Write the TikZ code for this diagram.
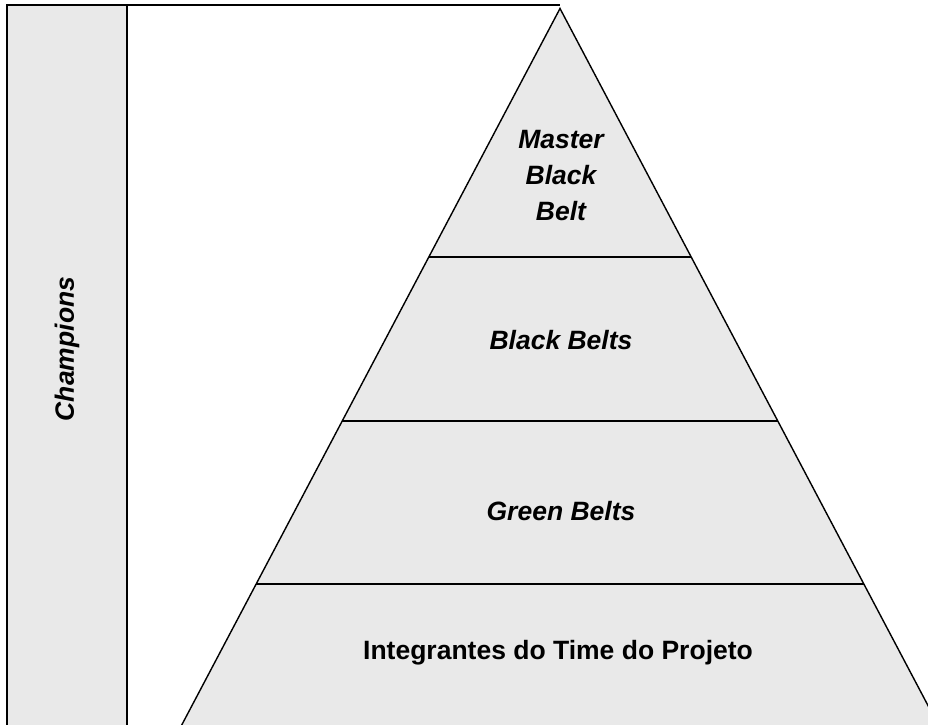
\documentclass[tikz,border=0pt]{standalone}
\usepackage{fontspec}
\setmainfont{Liberation Sans}
\usepackage{tikz}
\usetikzlibrary{calc}
\tikzset{>=latex}
\definecolor{levelfill}{gray}{0.914}
\tikzset{
  outline/.style={draw=black, line width=1.4pt, line join=miter},
  beltlabel/.style={font=\fontsize{26.5}{36}\selectfont\bfseries\itshape, align=center},
  teamlabel/.style={font=\fontsize{26.5}{36}\selectfont\bfseries, align=center},
}

\begin{document}
\begin{tikzpicture}[x=1pt, y=-1pt]
  \useasboundingbox (0,0) rectangle (928,724);
  \clip (0,0) rectangle (928,724);

  % START: Champions column -----------------------
  \coordinate (col_tl) at (7,5);
  \coordinate (col_br) at (127,760);
  \fill[levelfill] (col_tl) rectangle (col_br);
  \draw[outline] (col_tl |- col_br) -- (col_tl) -- (col_tl -| col_br) -- (col_br);
  \node[beltlabel, rotate=90] (champions) at (67,349) {Champions};
  % END: Champions column -------------------------

  % START: Pyramid --------------------------------
  \coordinate (apex) at (560,8.5);
  \coordinate (top_end) at (560,5);
  \coordinate (base_l) at (173.8,740);
  \coordinate (base_r) at (946.2,740);
  \draw[outline] (col_tl -| col_br) -- (top_end);
  \fill[levelfill] (apex) -- (base_l) -- (base_r) -- cycle;
  \draw[outline] (base_l) -- (apex) -- (base_r);
  % Level dividers
  \coordinate (l1_l) at ($(apex)!0.3397!(base_l)$);
  \coordinate (l1_r) at ($(apex)!0.3397!(base_r)$);
  \coordinate (l2_l) at ($(apex)!0.5639!(base_l)$);
  \coordinate (l2_r) at ($(apex)!0.5639!(base_r)$);
  \coordinate (l3_l) at ($(apex)!0.7867!(base_l)$);
  \coordinate (l3_r) at ($(apex)!0.7867!(base_r)$);
  \draw[outline] (l1_l) -- (l1_r);
  \draw[outline] (l2_l) -- (l2_r);
  \draw[outline] (l3_l) -- (l3_r);
  % END: Pyramid ----------------------------------

  % START: Labels ---------------------------------
  \node[beltlabel] (master) at (561,176) {Master\\Black\\Belt};
  \node[beltlabel] (black) at (561,340) {Black Belts};
  \node[beltlabel] (green) at (561,511) {Green Belts};
  \node[teamlabel] (team) at (558,653) {Integrantes do Time do Projeto};
  % END: Labels -----------------------------------
\end{tikzpicture}
\end{document}
